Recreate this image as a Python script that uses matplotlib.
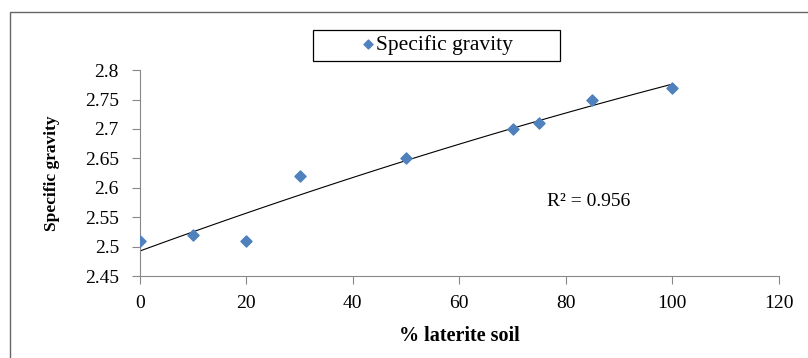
import numpy as np
import matplotlib.pyplot as plt
from matplotlib.patches import Rectangle

plt.rcParams['font.family'] = ['Liberation Serif', 'DejaVu Serif']

# % laterite soil vs specific gravity
laterite = [0, 10, 20, 30, 50, 70, 75, 85, 100]
gravity = [2.51, 2.52, 2.51, 2.62, 2.65, 2.70, 2.71, 2.75, 2.77]
r2_label = "R\u00b2 = 0.956"

fig = plt.figure(figsize=(8.08, 3.58), dpi=100)
ax = fig.add_axes([0.173, 0.229, 0.791, 0.575])

# outer chart frame
fig.patches.append(Rectangle((10 / 808, -0.1), 1.2, 1.1 - 12 / 358, transform=fig.transFigure,
                             fill=False, edgecolor='#666666', linewidth=1.0))
# legend frame
fig.patches.append(Rectangle((313 / 808, 1 - 61 / 358), 247 / 808, 31 / 358,
                             transform=fig.transFigure, fill=False,
                             edgecolor='black', linewidth=0.9))

ax.scatter(laterite, gravity, marker='D', s=32, color='#4F81BD', zorder=3,
           label='Specific gravity')

# polynomial trend line (order 2)
coef = np.polyfit(laterite, gravity, 2)
xs = np.linspace(0, 100, 100)
ax.plot(xs, np.polyval(coef, xs), color='black', linewidth=0.8)

ax.text(76.5, 2.576, r2_label, fontsize=14, va='center', ha='left')

ax.set_xlim(0, 120)
ax.set_ylim(2.45, 2.8)
ax.set_xticks(np.arange(0, 121, 20))
ax.set_yticks(np.arange(2.45, 2.801, 0.05))
ax.set_yticklabels(['2.45', '2.5', '2.55', '2.6', '2.65', '2.7', '2.75', '2.8'])

for s in ['top', 'right']:
    ax.spines[s].set_visible(False)
for s in ['left', 'bottom']:
    ax.spines[s].set_color('#888888')
ax.tick_params(axis='both', colors='#888888', labelcolor='black', labelsize=14,
               length=6, direction='out')
ax.tick_params(axis='x', pad=8)
ax.tick_params(axis='y', pad=9)

ax.set_xlabel('% laterite soil', fontsize=14.5, fontweight='bold', labelpad=10)
ax.set_ylabel('Specific gravity', fontsize=12.5, fontweight='bold', labelpad=18)

leg = ax.legend(loc='center left', bbox_to_anchor=(346 / 808, 1 - 45 / 358),
                bbox_transform=fig.transFigure, fontsize=15.5, frameon=False,
                handletextpad=-0.1, borderpad=0, handlelength=1.0, markerscale=0.8)

fig.savefig('out.png', dpi=100)
